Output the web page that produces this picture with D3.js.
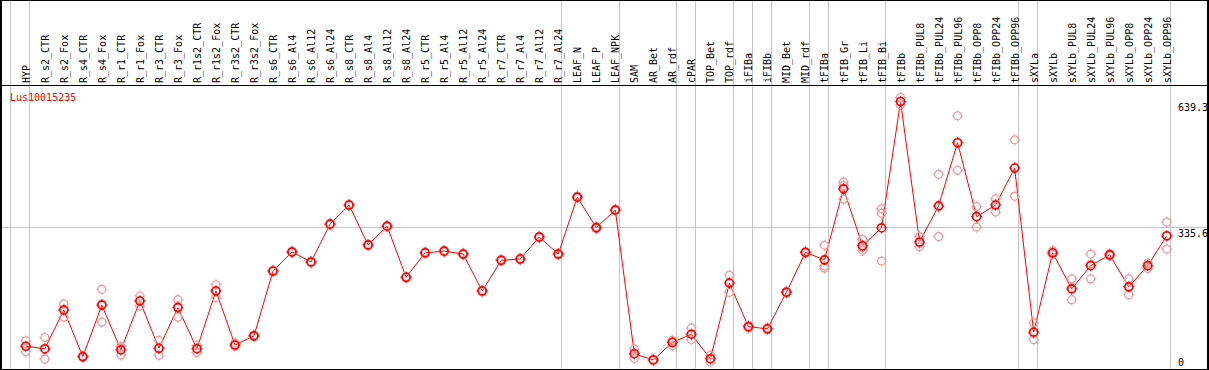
<!DOCTYPE html>
<html lang="en">
    <head>
        <meta charset="utf-8">
        <title>Lus10015235</title>
        <script type="text/javascript" src="https://cdn.jsdelivr.net/npm/d3@7/dist/d3.min.js"></script>
        <style>
            body { margin: 0; background: white; }
            text { font-family: "DejaVu Sans Mono", monospace; font-size: 10px; }
        </style>
    </head>
    <body>
        <script type="text/javascript">
            var samples = ["HYP", "R_s2_CTR", "R_s2_Fox", "R_s4_CTR", "R_s4_Fox", "R_r1_CTR", "R_r1_Fox",
                "R_r3_CTR", "R_r3_Fox", "R_r1s2_CTR", "R_r1s2_Fox", "R_r3s2_CTR", "R_r3s2_Fox",
                "R_s6_CTR", "R_s6_Al4", "R_s6_Al12", "R_s6_Al24", "R_s8_CTR", "R_s8_Al4", "R_s8_Al12",
                "R_s8_Al24", "R_r5_CTR", "R_r5_Al4", "R_r5_Al12", "R_r5_Al24", "R_r7_CTR", "R_r7_Al4",
                "R_r7_Al12", "R_r7_Al24", "LEAF_N", "LEAF_P", "LEAF_NPK", "SAM", "AR_Bet", "AR_rdf",
                "cPAR", "TOP_Bet", "TOP_rdf", "iFIBa", "iFIBb", "MID_Bet", "MID_rdf", "tFIBa",
                "tFIB_Gr", "tFIB_Li", "tFIB_Bi", "tFIBb", "tFIBb_PUL8", "tFIBb_PUL24", "tFIBb_PUL96",
                "tFIBb_OPP8", "tFIBb_OPP24", "tFIBb_OPP96", "sXYLa", "sXYLb", "sXYLb_PUL8",
                "sXYLb_PUL24", "sXYLb_PUL96", "sXYLb_OPP8", "sXYLb_OPP24", "sXYLb_OPP96"];

            // mean expression per sample
            var meanValues = [50, 44, 137, 25, 149, 41, 159, 45, 143, 44, 183, 53, 75,
                231, 277, 253, 344, 390, 294, 339, 216, 275, 279, 272, 183, 257, 260, 313, 272,
                409, 335.6, 378, 32, 17, 59, 79, 20, 202, 97, 92, 180, 276, 258,
                429, 292, 335, 639.3, 301, 388, 540, 362, 390, 479, 84, 275, 188,
                244, 270, 193, 244, 316];

            // replicates
            var rep1 = [63, 71, 152, 27, 187, 49, 171, 64, 162, 52, 198, 57, 77,
                233, 279, 255, 346, 392, 296, 341, 218, 277, 281, 274, 185, 259, 262, 315, 274,
                411, 338, 380, 43, 19, 64, 94, 28, 221, 100, 94, 182, 278, 293,
                445, 307, 381, 649, 314, 464, 605, 386, 405, 547, 106, 280, 212,
                272, 273, 212, 250, 349];
            var rep2 = [50, 42, 139, 25, 152, 45, 160, 44, 147, 45, 184, 53, 75,
                231, 277, 253, 344, 390, 294, 339, 216, 275, 279, 272, 183, 257, 260, 313, 272,
                409, 335, 378, 32, 17, 62, 79, 20, 204, 97, 92, 180, 276, 243,
                437, 288, 370, 639, 298, 386, 540, 362, 392, 480, 81, 274, 191,
                248, 270, 194, 244, 315];
            var rep3 = [37, 19, 120, 23, 108, 29, 147, 28, 120, 35, 167, 50, 73,
                229, 275, 251, 342, 388, 292, 337, 214, 273, 277, 270, 181, 255, 258, 311, 270,
                407, 333, 376, 21, 15, 51, 66, 12, 180, 94, 90, 178, 274, 238,
                404, 281, 255, 631, 290, 314, 474, 337, 373, 411, 66, 271, 162,
                212, 267, 174, 237, 284];

            // group separators (index of first sample after each line)
            var groupBreaks = [0, 1, 29, 32, 35, 36, 38, 39, 40, 42, 43, 46, 53, 54, 61];
            var yTicks = [0, 335.6, 639.3];
            var geneName = "Lus10015235";

            var w = 1209;
            var h = 370;
            var headerH = 85.5;

            var svg = d3.select("body").append("svg").attr("width", w).attr("height", h);

            // column edges and point positions
            var xEdge = d3.scaleLinear().domain([0, samples.length]).range([10.5, 1170.5]);
            var x = function(i){ return xEdge(i) + 15.3; };
            var y = d3.scaleLinear().domain([0, 639.3]).range([367, 101.5]);

            // gray separators
            svg.selectAll("line.sep")
                .data(groupBreaks)
                .enter()
                .append("line")
                .attr("class", "sep")
                .attr("x1", function(d){ return Math.round(xEdge(d) - 0.5) + 0.5; })
                .attr("x2", function(d){ return Math.round(xEdge(d) - 0.5) + 0.5; })
                .attr("y1", 0)
                .attr("y2", h)
                .attr("stroke", "#c4c4c4")
                .attr("stroke-width", 1);

            // reference level line
            svg.append("line")
                .attr("x1", 0).attr("x2", w)
                .attr("y1", Math.round(y(335.6)) - 0.5)
                .attr("y2", Math.round(y(335.6)) - 0.5)
                .attr("stroke", "#c4c4c4");

            // borders
            svg.append("line").attr("x1", 0).attr("x2", w).attr("y1", 0.5).attr("y2", 0.5).attr("stroke", "black");
            svg.append("line").attr("x1", 0).attr("x2", w).attr("y1", headerH).attr("y2", headerH).attr("stroke", "black");
            svg.append("line").attr("x1", 0).attr("x2", w).attr("y1", 369.5).attr("y2", 369.5).attr("stroke", "black");
            svg.append("line").attr("x1", 1).attr("x2", 1).attr("y1", 0).attr("y2", h).attr("stroke", "black").attr("stroke-width", 2);
            svg.append("line").attr("x1", 1208).attr("x2", 1208).attr("y1", 0).attr("y2", h).attr("stroke", "black").attr("stroke-width", 2);

            // sample labels (rotated)
            svg.selectAll("text.sample")
                .data(samples)
                .enter()
                .append("text")
                .attr("class", "sample")
                .attr("transform", function(d, i){
                    return "translate(" + (x(i) + 4) + "," + 83 + ") rotate(-90)";
                })
                .attr("fill", "black")
                .text(function(d){ return d; });

            // gene name
            svg.append("text")
                .attr("x", 10)
                .attr("y", 100.5)
                .attr("fill", "red")
                .text(geneName);

            // y tick labels on the right
            svg.selectAll("text.tick")
                .data(yTicks)
                .enter()
                .append("text")
                .attr("class", "tick")
                .attr("x", 1178)
                .attr("y", function(d){
                    return d === 0 ? y(d) - 1.5 : y(d) + 9.5;
                })
                .attr("fill", "black")
                .text(function(d){ return d; });

            // mean line
            var line = d3.line()
                .x(function(d, i){ return x(i); })
                .y(function(d){ return y(d); });

            svg.append("path")
                .datum(meanValues)
                .attr("d", line)
                .attr("fill", "none")
                .attr("stroke", "red")
                .attr("stroke-width", 1);

            // little "gear" marker: circle plus four ticks
            var tickPath = "M0,-5.5V-3.5M0,3.5V5.5M-5.5,0H-3.5M3.5,0H5.5";

            function drawMarkers(values, cls, color, sw){
                var g = svg.selectAll("g." + cls)
                    .data(values)
                    .enter()
                    .append("g")
                    .attr("class", cls)
                    .attr("transform", function(d, i){
                        return "translate(" + x(i) + "," + y(d) + ")";
                    });
                g.append("circle")
                    .attr("r", 4)
                    .attr("fill", "none")
                    .attr("stroke", color)
                    .attr("stroke-width", sw);
                g.append("path")
                    .attr("d", tickPath)
                    .attr("stroke", color)
                    .attr("stroke-width", 1);
            }

            drawMarkers(rep1, "rep1", "#f09a9a", 1.2);
            drawMarkers(rep2, "rep2", "#f09a9a", 1.2);
            drawMarkers(rep3, "rep3", "#f09a9a", 1.2);
            drawMarkers(meanValues, "mean", "red", 1.6);
        </script>
    </body>
</html>
